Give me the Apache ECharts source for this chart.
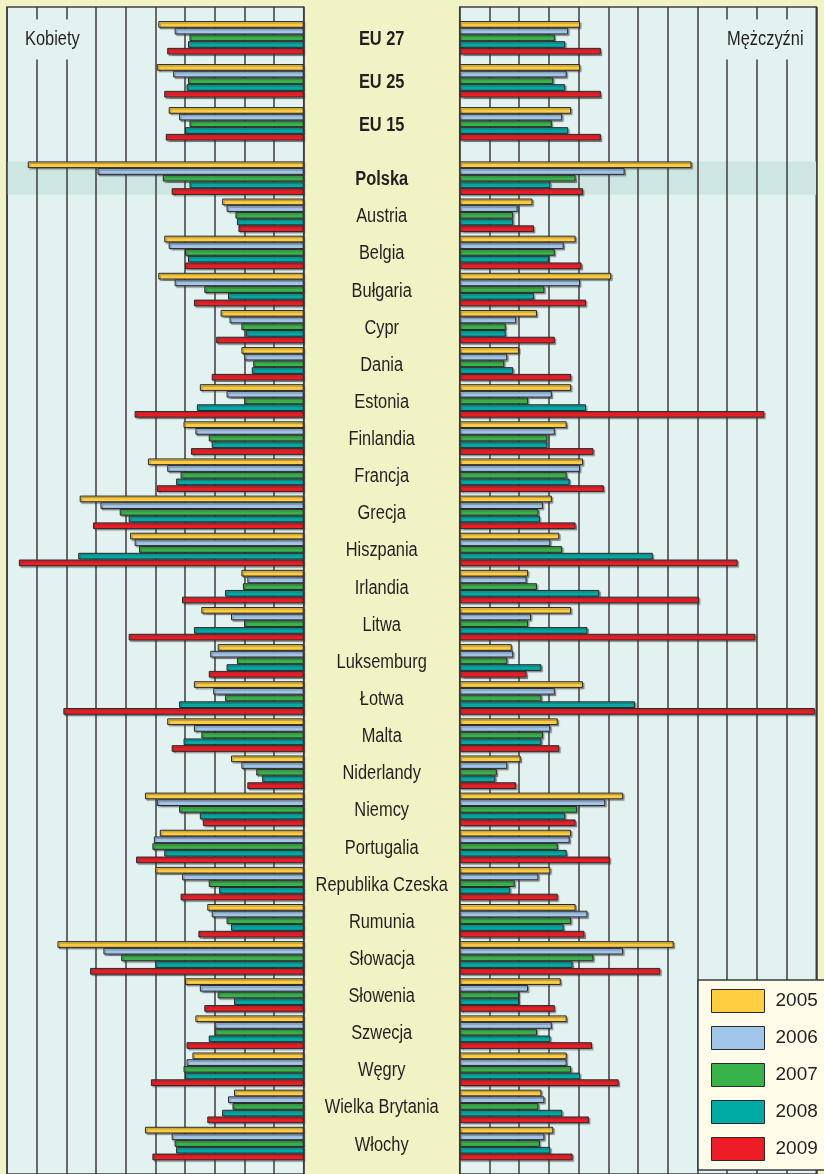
<!DOCTYPE html>
<html>
<head>
<meta charset="utf-8">
<script src="https://cdn.jsdelivr.net/npm/echarts/dist/echarts.min.js"></script>
<style>
html,body{margin:0;padding:0;background:#f2f3c4;}
#main{width:824px;height:1174px;}
</style>
</head>
<body>
<div id="main"></div>
<script>
// kategorie: najpierw średnie UE, potem kraje
var euCats = ['EU 27', 'EU 25', 'EU 15'];
var countryCats = ['Polska', 'Austria', 'Belgia', 'Bułgaria', 'Cypr', 'Dania', 'Estonia', 'Finlandia',
    'Francja', 'Grecja', 'Hiszpania', 'Irlandia', 'Litwa', 'Luksemburg', 'Łotwa', 'Malta', 'Niderlandy',
    'Niemcy', 'Portugalia', 'Republika Czeska', 'Rumunia', 'Słowacja', 'Słowenia', 'Szwecja', 'Węgry',
    'Wielka Brytania', 'Włochy'];
var years = ['2005', '2006', '2007', '2008', '2009'];

// Kobiety (kolejnosc wierszy jak euCats + countryCats)
var women2005 = [9.8, 9.9, 9.1, 18.6, 5.5, 9.4, 9.8, 5.6, 4.2, 7.0, 8.1, 10.5, 15.1, 11.7, 4.2, 6.9, 5.8, 7.4, 9.2, 4.9, 10.7, 9.7, 10.0, 6.5, 16.6, 8.0, 7.3, 7.5, 4.7, 10.7];
var women2006 = [8.7, 8.8, 8.4, 13.9, 5.2, 9.1, 8.7, 5.0, 4.0, 5.2, 7.3, 9.2, 13.7, 11.4, 3.8, 4.9, 6.3, 6.1, 7.4, 4.2, 9.9, 10.1, 8.2, 6.2, 13.5, 7.0, 6.0, 7.9, 5.1, 8.9];
var women2007 = [7.7, 7.8, 7.7, 9.5, 4.6, 8.0, 6.7, 4.2, 3.4, 4.0, 6.4, 8.3, 12.4, 11.1, 4.1, 4.0, 4.5, 5.3, 6.9, 3.2, 8.4, 10.2, 6.4, 5.2, 12.3, 5.8, 6.0, 8.1, 4.8, 8.7];
var women2008 = [7.8, 7.9, 8.0, 7.7, 4.5, 7.8, 5.1, 3.9, 3.5, 7.2, 6.2, 8.6, 11.8, 15.2, 5.3, 7.4, 5.2, 8.4, 8.1, 2.8, 7.0, 9.4, 5.7, 4.9, 10.0, 4.7, 6.4, 8.0, 5.5, 8.6];
var women2009 = [9.2, 9.4, 9.3, 8.9, 4.4, 8.0, 7.4, 5.9, 6.2, 11.4, 7.6, 9.9, 14.2, 19.2, 8.2, 11.8, 6.4, 16.2, 8.9, 3.8, 6.8, 11.3, 8.3, 7.1, 14.4, 6.7, 7.9, 10.3, 6.5, 10.2];

// Mężczyźni
var men2005 = [8.1, 8.1, 7.5, 15.6, 4.9, 7.8, 10.2, 5.2, 4.0, 7.5, 7.2, 8.3, 6.2, 6.7, 4.6, 7.5, 3.5, 8.3, 6.6, 4.1, 11.0, 7.5, 6.1, 7.8, 14.4, 6.8, 7.2, 7.2, 5.5, 6.3];
var men2006 = [7.3, 7.2, 6.9, 11.1, 3.9, 7.0, 8.1, 3.8, 3.2, 6.2, 6.4, 8.1, 5.6, 6.1, 4.5, 4.8, 3.6, 6.4, 6.1, 3.2, 9.8, 7.4, 5.3, 8.6, 11.0, 4.6, 6.2, 7.2, 5.7, 5.7];
var men2007 = [6.4, 6.3, 6.2, 7.8, 3.6, 6.4, 5.7, 3.1, 3.0, 4.6, 5.9, 7.2, 5.3, 6.9, 5.2, 4.6, 3.2, 5.5, 5.6, 2.5, 7.9, 6.6, 3.7, 7.5, 9.0, 4.0, 5.2, 7.5, 5.3, 5.4];
var men2008 = [7.1, 7.1, 7.3, 6.1, 3.6, 6.0, 5.0, 3.1, 3.6, 8.5, 5.9, 7.4, 5.4, 13.0, 9.4, 8.6, 5.5, 11.8, 5.5, 2.4, 7.1, 7.2, 3.4, 7.0, 7.6, 4.0, 6.1, 8.1, 6.9, 6.1];
var men2009 = [9.5, 9.5, 9.5, 8.3, 5.0, 8.2, 8.5, 6.4, 7.5, 20.5, 9.0, 9.7, 7.8, 18.7, 16.1, 19.9, 4.5, 23.9, 6.7, 3.8, 7.8, 10.1, 6.6, 8.4, 13.5, 6.4, 8.9, 10.7, 8.7, 7.6];

var colors = ['#ffcd40', '#a2c6ea', '#38b34a', '#00aba6', '#ee1c25'];
var women = [women2005, women2006, women2007, women2008, women2009];
var men = [men2005, men2006, men2007, men2008, men2009];

var font = "'Liberation Sans', Arial, sans-serif";
var narrow = 0.82;   // brak kroju waskiego - sciskamy tekst
var leftMax = 20, rightMax = 24;
var nEU = euCats.length;

var chart = echarts.init(document.getElementById('main'));

function barSeries(name, color, axisIdx, data) {
    return {
        name: name,
        type: 'bar',
        xAxisIndex: axisIdx,
        yAxisIndex: axisIdx,
        data: data,
        barWidth: 6.7,
        barGap: 0,
        z: 3,
        itemStyle: {
            color: color,
            borderColor: '#2a2a2a',
            borderWidth: 1,
            shadowColor: 'rgba(60,60,60,0.45)',
            shadowOffsetX: 1.5,
            shadowOffsetY: 1.5,
            shadowBlur: 1
        }
    };
}

var series = [];
for (var i = 0; i < years.length; i++) {
    series.push(barSeries(years[i], colors[i], 1, women[i].slice(0, nEU)));
    series.push(barSeries(years[i], colors[i], 2, women[i].slice(nEU)));
    series.push(barSeries(years[i], colors[i], 4, men[i].slice(0, nEU)));
    series.push(barSeries(years[i], colors[i], 5, men[i].slice(nEU)));
}

// siatka: 0 tlo lewe, 1 lewe UE, 2 lewe kraje, 3 tlo prawe, 4 prawe UE, 5 prawe kraje
var L = { left: 7, width: 296.7 }, R = { left: 459.7, width: 356.6 };
var euBox = { top: 16.3, height: 129 }, cBox = { top: 159.6, height: 1002.5 };
var frameBox = { top: 7, height: 1190 };

function grid(side, box, frame) {
    return {
        left: side.left, width: side.width, top: box.top, height: box.height,
        show: frame, backgroundColor: '#e2f2f0', borderColor: '#3f3f3f', borderWidth: frame ? 1.5 : 0,
        z: 0
    };
}

function xAx(idx, max, inv, frame) {
    return {
        type: 'value', gridIndex: idx, min: 0, max: max, interval: 2, inverse: inv,
        show: frame, z: 2,
        axisLine: { show: false }, axisTick: { show: false }, axisLabel: { show: false },
        splitLine: { show: frame, lineStyle: { color: '#3c3c3c', width: 1.5 } }
    };
}

function yCat(idx, cats) {
    return {
        type: 'category', gridIndex: idx, data: cats, inverse: true,
        axisLine: { show: false }, axisTick: { show: false }, splitLine: { show: false },
        axisLabel: { show: false }
    };
}

var option = {
    backgroundColor: '#f2f3c4',
    animation: false,
    legend: {
        data: years,
        orient: 'vertical',
        left: 698, top: 980,
        padding: [9, 40, 9, 13],
        icon: 'rect',
        itemWidth: 53, itemHeight: 23, itemGap: 13,
        backgroundColor: '#fffde9', borderColor: '#3a3a3a', borderWidth: 1.5, borderRadius: 0,
        textStyle: { fontFamily: font, fontSize: 19, color: '#231f20', padding: [0, 0, 0, 6] },
        itemStyle: { borderColor: '#2a2a2a', borderWidth: 1, shadowBlur: 0, shadowOffsetX: 0, shadowOffsetY: 0 },
        z: 6
    },
    grid: [
        grid(L, frameBox, true), grid(L, euBox, false), grid(L, cBox, false),
        grid(R, frameBox, true), grid(R, euBox, false), grid(R, cBox, false)
    ],
    xAxis: [
        xAx(0, leftMax, true, true), xAx(1, leftMax, true, false), xAx(2, leftMax, true, false),
        xAx(3, rightMax, false, true), xAx(4, rightMax, false, false), xAx(5, rightMax, false, false)
    ],
    yAxis: [
        { type: 'value', gridIndex: 0, show: false },
        yCat(1, euCats), yCat(2, countryCats),
        { type: 'value', gridIndex: 3, show: false },
        yCat(4, euCats), yCat(5, countryCats)
    ],
    series: series
};
chart.setOption(option);

// pozycje liczone ze skal osi
var lx0 = chart.convertToPixel({ xAxisIndex: 2 }, leftMax), lx1 = chart.convertToPixel({ xAxisIndex: 2 }, 0);
var rx0 = chart.convertToPixel({ xAxisIndex: 5 }, 0), rx1 = chart.convertToPixel({ xAxisIndex: 5 }, rightMax);
var midX = (lx1 + rx0) / 2;
var graphics = [];

// podswietlenie wiersza Polska
var yc = chart.convertToPixel({ yAxisIndex: 2 }, 'Polska');
var bandH = cBox.height / countryCats.length * 0.9;
graphics.push({ type: 'rect', z: 1, silent: true, shape: { x: lx0, y: yc - bandH / 2, width: lx1 - lx0, height: bandH }, style: { fill: '#cde6e1' } });
graphics.push({ type: 'rect', z: 1, silent: true, shape: { x: rx0, y: yc - bandH / 2, width: rx1 - rx0, height: bandH }, style: { fill: '#cde6e1' } });

// podpisy wierszy w srodkowej kolumnie
function rowLabel(cat, axisIdx) {
    var bold = cat.indexOf('EU') === 0 || cat === 'Polska';
    return {
        type: 'text', z: 10, silent: true,
        x: midX, y: chart.convertToPixel({ yAxisIndex: axisIdx }, cat) + 1.5, scaleX: narrow,
        style: {
            text: cat, fill: '#231f20', align: 'center', verticalAlign: 'middle',
            font: (bold ? 'bold ' : '') + '20px ' + font
        }
    };
}
euCats.forEach(function (c) { graphics.push(rowLabel(c, 1)); });
countryCats.forEach(function (c) { graphics.push(rowLabel(c, 2)); });

// naglowki stron
function sideTitle(txt, x) {
    return {
        type: 'text', z: 10, silent: true, x: x, y: 39.5, scaleX: narrow,
        style: {
            text: txt, fill: '#231f20', align: 'left', verticalAlign: 'middle',
            font: '20px ' + font, backgroundColor: '#e2f2f0', padding: [10, 7]
        }
    };
}
graphics.push(sideTitle('Kobiety', 19.3));
graphics.push(sideTitle('Mężczyźni', 721.3));

chart.setOption({ graphic: graphics });
</script>
</body>
</html>
